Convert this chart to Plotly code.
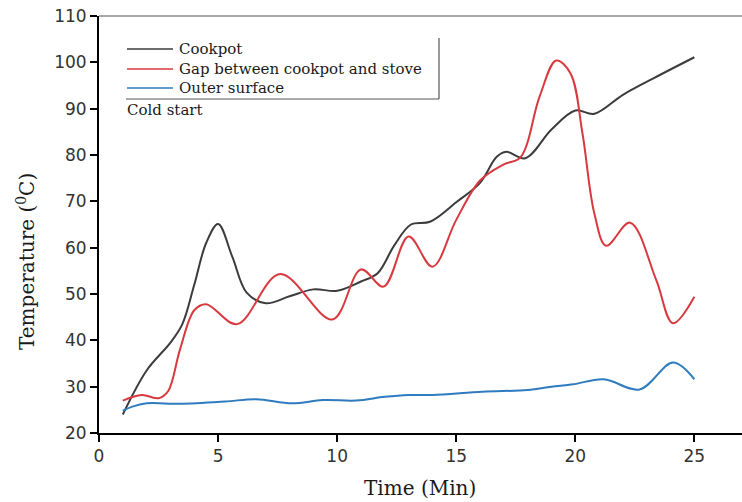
import plotly.graph_objects as go

# ---------------- data ----------------
cookpot_t = [1, 2, 3, 3.5, 4, 4.5, 5, 5.6, 6.2, 7, 8, 9, 10, 11, 11.7, 12.4, 13.1, 13.9, 15,
             16, 16.7, 17.1, 17.9, 19, 20, 20.8, 22, 23.3, 25]
cookpot_v = [24, 33.5, 39.5, 43.5, 52, 61, 65.1, 58, 50.3, 48, 49.5, 51, 50.7, 52.7, 54.5,
             60.5, 65, 65.6, 69.8, 74, 79.6, 80.7, 79.3, 85.5, 89.6, 88.9, 93, 96.6, 101.1]

gap_t = [1, 1.8, 2.5, 2.9, 3.4, 4.0, 4.5, 5.8, 7.6, 9.8, 11.0, 11.95, 13.0, 14.0, 15.0, 16.0,
         17.0, 17.7, 18.5, 19.2, 19.8, 20.3, 20.8, 21.3, 22.3, 23.4, 24.1, 25]
gap_v = [27, 28.2, 27.5, 29, 38, 46.5, 47.8, 43.5, 54.3, 44.5, 55.3, 51.6, 62.4, 55.9, 66,
         74.5, 78, 79.5, 92.6, 100.4, 97.6, 84.7, 67.4, 60.4, 65.4, 53, 43.7, 49.4]

outer_t = [1, 1.4, 2.0, 3.4, 5.3, 6.6, 8.1, 9.4, 10.8, 12.0, 13, 14, 16.1, 18, 19, 19.9,
           21.2, 22.7, 24.1, 25]
outer_v = [24.8, 25.7, 26.4, 26.3, 26.8, 27.3, 26.4, 27.1, 27, 27.8, 28.2, 28.2, 28.9, 29.3,
           30, 30.5, 31.6, 29.4, 35.2, 31.6]

series_names = ["Cookpot", "Gap between cookpot and stove", "Outer surface"]
series_colors = ["#3c3c3c", "#d8393f", "#2f7bbf"]

x_ticks = [0, 5, 10, 15, 20, 25]
y_ticks = [20, 30, 40, 50, 60, 70, 80, 90, 100, 110]

# ---------------- layout geometry ----------------
W, H = 742, 502
ML, MR, MT, MB = 99, 0, 16, 69
PW, PH = W - ML - MR, H - MT - MB


def px(x):
    return (x - ML) / PW


def py(y):
    return (H - MB - y) / PH


fig = go.Figure()
for t, v, name, col in zip([cookpot_t, gap_t, outer_t], [cookpot_v, gap_v, outer_v],
                           series_names, series_colors):
    fig.add_trace(go.Scatter(x=t, y=v, mode="lines", name=name, showlegend=False,
                             line=dict(color=col, width=2, shape="spline", smoothing=1.0)))

tickfont = dict(family="DejaVu Sans", size=17, color="#333333")
axis_common = dict(showline=True, linecolor="black", linewidth=2, ticks="outside",
                   ticklen=7, tickwidth=2, tickcolor="black", showgrid=False,
                   zeroline=False, tickfont=tickfont)

fig.update_layout(
    width=W, height=H,
    margin=dict(l=ML, r=MR, t=MT, b=MB),
    paper_bgcolor="white", plot_bgcolor="white",
    xaxis=dict(range=[0, 27.0], tickvals=x_ticks, **axis_common),
    yaxis=dict(range=[20, 110], tickvals=y_ticks, **axis_common),
)

# top frame line
fig.add_shape(type="line", xref="paper", yref="paper", x0=0, x1=1, y0=1, y1=1,
              line=dict(color="#8a8a8a", width=1.5))

# manual legend
serif = "DejaVu Serif"
rows_y = [49, 69, 88]
for name, col, ry in zip(series_names, series_colors, rows_y):
    fig.add_shape(type="line", xref="paper", yref="paper", x0=px(127), x1=px(173),
                  y0=py(ry), y1=py(ry), line=dict(color=col, width=1.5))
    fig.add_annotation(xref="paper", yref="paper", x=px(177), y=py(ry), text=name,
                       showarrow=False, xanchor="left", yanchor="middle",
                       font=dict(family=serif, size=15, color="#1a1a1a"))
# legend border (right and bottom edges)
fig.add_shape(type="line", xref="paper", yref="paper", x0=px(126), x1=px(439),
              y0=py(99), y1=py(99), line=dict(color="#555555", width=1.2))
fig.add_shape(type="line", xref="paper", yref="paper", x0=px(439), x1=px(439),
              y0=py(38), y1=py(99), line=dict(color="#555555", width=1.2))
fig.add_annotation(xref="paper", yref="paper", x=px(125), y=py(110), text="Cold start",
                   showarrow=False, xanchor="left", yanchor="middle",
                   font=dict(family=serif, size=15, color="#1a1a1a"))

# axis titles
fig.add_annotation(xref="paper", yref="paper", x=px(420), y=py(488), text="Time (Min)",
                   showarrow=False, xanchor="center", yanchor="middle",
                   font=dict(family=serif, size=20, color="#1a1a1a"))
fig.add_annotation(xref="paper", yref="paper", x=px(26), y=py(262),
                   text="Temperature (<sup>0</sup>C)", textangle=-90,
                   showarrow=False, xanchor="center", yanchor="middle",
                   font=dict(family=serif, size=20, color="#1a1a1a"))

fig.write_html("out.html")
